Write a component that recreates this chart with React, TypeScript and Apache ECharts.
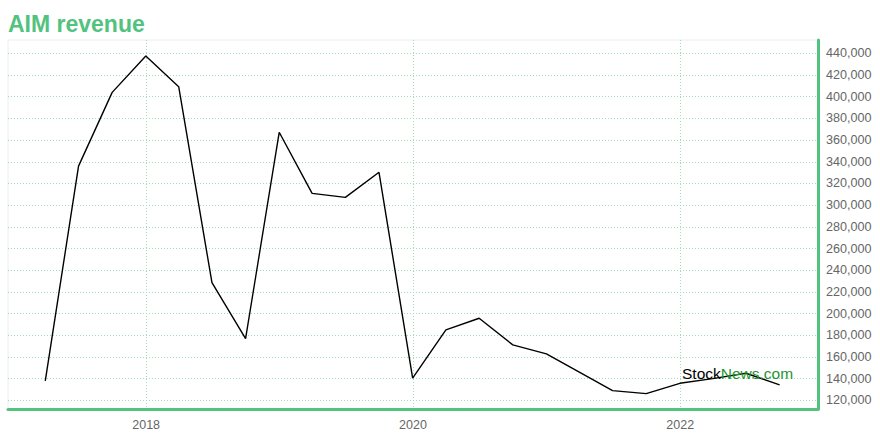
import React, { useEffect, useRef } from "react";
import * as echarts from "echarts";

const dates: string[] = [
  "2017-03-31", "2017-06-30", "2017-09-30", "2017-12-31",
  "2018-03-31", "2018-06-30", "2018-09-30", "2018-12-31",
  "2019-03-31", "2019-06-30", "2019-09-30", "2019-12-31",
  "2020-03-31", "2020-06-30", "2020-09-30", "2020-12-31",
  "2021-03-31", "2021-06-30", "2021-09-30", "2021-12-31",
  "2022-03-31", "2022-06-30", "2022-09-30",
];

const revenue: number[] = [
  137900, 336000, 404000, 437500,
  409200, 228500, 176900, 367200,
  310900, 307200, 330300, 140400,
  184900, 195700, 171100, 162800,
  146000, 128900, 126200, 135700,
  140000, 145000, 134200,
];

const xTickDates: string[] = ["2018-01-01", "2020-01-01", "2022-01-01"];

const GREEN = "#52c27f";
const FONT = "Liberation Sans, Arial, sans-serif";
const ts = (d: string) => Date.UTC(+d.slice(0, 4), +d.slice(5, 7) - 1, +d.slice(8, 10));

export default function App() {
  const ref = useRef<HTMLDivElement>(null);

  useEffect(() => {
    if (!ref.current) return;
    const chart = echarts.init(ref.current, null, { renderer: "svg" });
    const tickVals = xTickDates.map(ts);
    const gridLine = { type: [1, 2], color: "#9fdcb9", width: 1 };
    chart.setOption({
      animation: false,
      title: {
        text: "AIM revenue",
        left: 3,
        top: 7,
        textStyle: {
          fontFamily: FONT,
          fontSize: 23,
          fontWeight: "bold",
          color: GREEN,
        },
      },
      grid: {
        left: 8,
        top: 40,
        right: 62,
        bottom: 31,
        show: true,
        borderColor: "#eeeeee",
        borderWidth: 1,
      },
      xAxis: {
        type: "value",
        min: ts("2016-12-19"),
        max: ts("2023-01-13"),
        axisLine: { show: true, onZero: false, lineStyle: { color: GREEN, width: 3 } },
        axisTick: { show: false, customValues: tickVals },
        axisLabel: {
          customValues: tickVals,
          formatter: (v: number) => String(new Date(v).getUTCFullYear()),
          color: "#666666",
          fontSize: 12.5,
          fontFamily: FONT,
          margin: 9,
        },
        splitLine: { show: true, lineStyle: gridLine },
      },
      yAxis: {
        type: "value",
        position: "right",
        min: 112000,
        max: 452300,
        splitNumber: 17,
        minInterval: 20000,
        maxInterval: 20000,
        axisLine: { show: true, lineStyle: { color: GREEN, width: 3 } },
        axisTick: { show: false },
        axisLabel: {
          showMinLabel: false,
          showMaxLabel: false,
          color: "#666666",
          fontSize: 12.6,
          fontFamily: FONT,
          margin: 8,
          formatter: (v: number) => v.toLocaleString("en-US"),
        },
        splitLine: {
          show: true,
          showMinLine: false,
          showMaxLine: false,
          lineStyle: gridLine,
        },
      },
      graphic: [
        {
          type: "text",
          left: 682,
          top: 365,
          z: 100,
          style: {
            text: "{a|Stock}{b|News.com}",
            rich: {
              a: { fill: "#000000", fontSize: 15.5, fontFamily: FONT },
              b: { fill: "#1e9431", fontSize: 15.5, fontFamily: FONT },
            },
          },
        },
      ],
      series: [
        {
          type: "line",
          data: dates.map((d, i) => [ts(d), revenue[i]]),
          showSymbol: false,
          symbol: "none",
          lineStyle: { color: "#000000", width: 1.4 },
          z: 3,
        },
      ],
    });
    return () => chart.dispose();
  }, []);

  return (
    <div
      ref={ref}
      style={{ position: "absolute", left: 0, top: 0, width: 880, height: 440 }}
    />
  );
}
